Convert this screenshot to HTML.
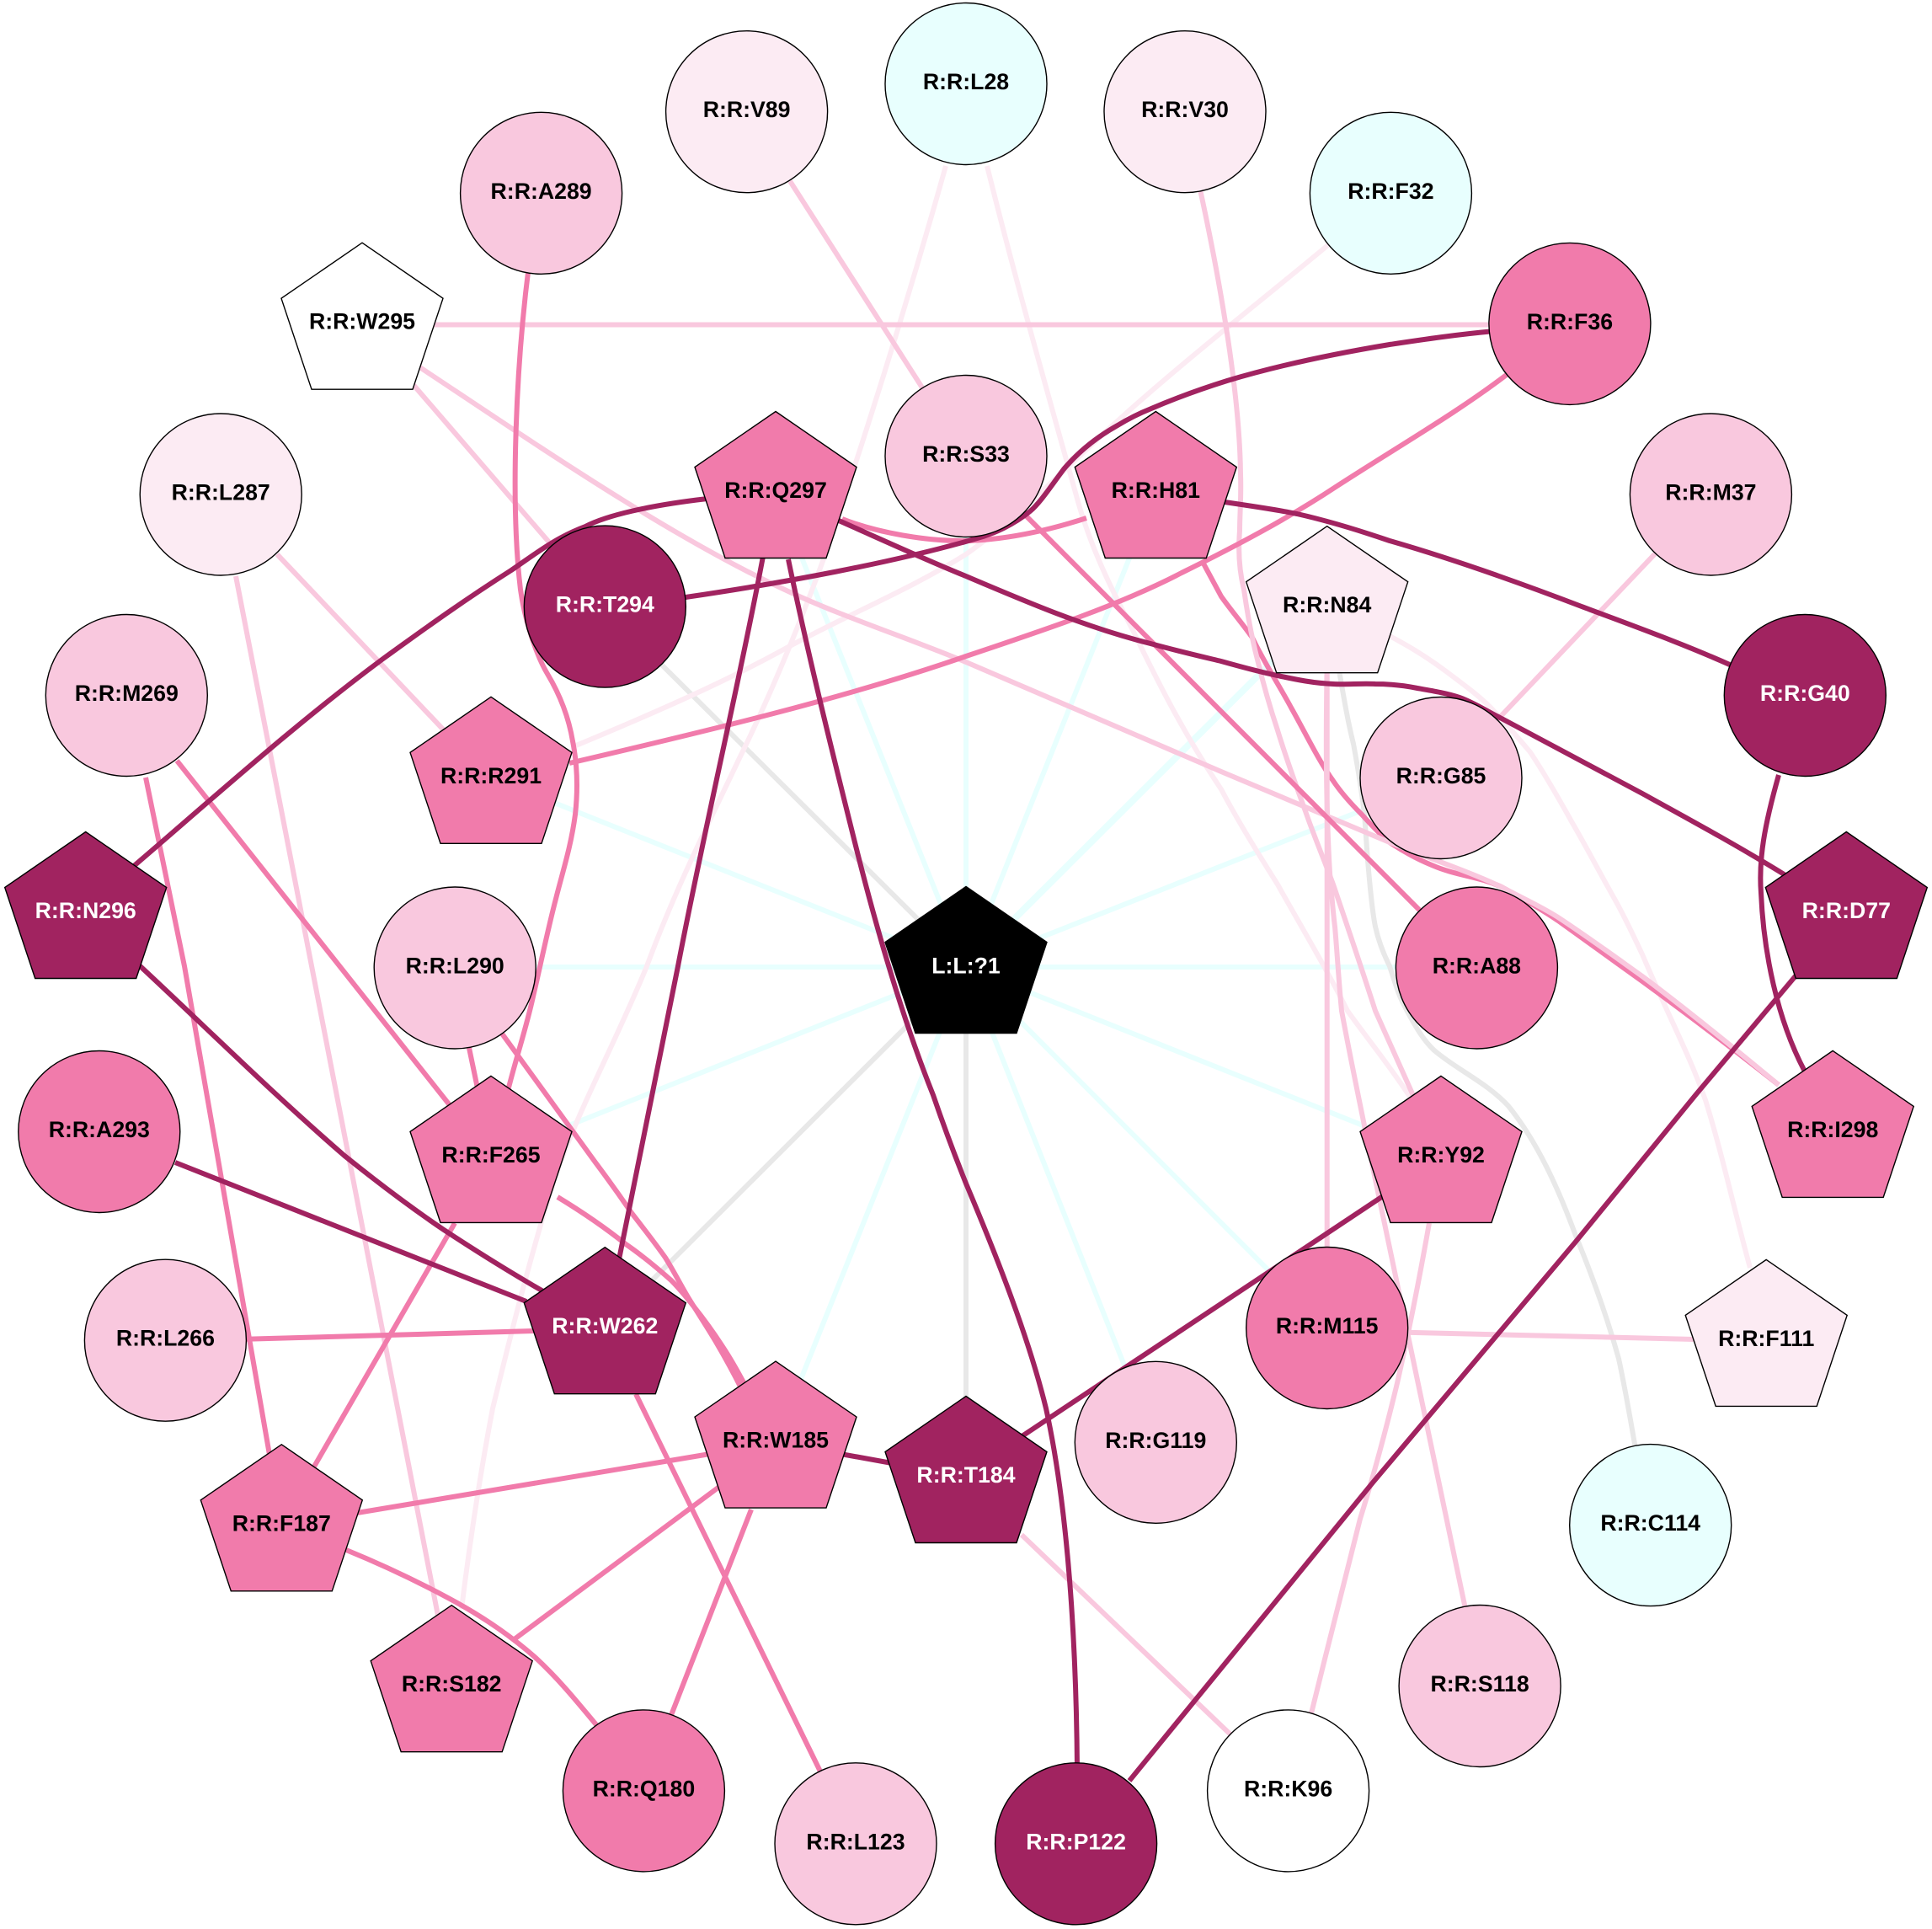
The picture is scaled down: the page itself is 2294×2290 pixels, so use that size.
<!DOCTYPE html>
<html>
<head>
<meta charset="utf-8">
<style>
html,body{margin:0;padding:0;background:#fff}
svg{display:block}
text{font-family:"Liberation Sans",sans-serif;font-weight:bold;font-size:26.7px;text-anchor:middle;fill:#000}
text.w{fill:#fff}
.e{fill:none;stroke-width:6;stroke-linejoin:round;stroke-linecap:butt}
.c{stroke:#e8fffe}.g{stroke:#e8e8e8}.p{stroke:#fcebf3}.l{stroke:#f9c8de}.m{stroke:#f17bab}.d{stroke:#a12360}
circle,polygon{stroke:#000;stroke-width:1.4}
.fd{fill:#a12360}.fm{fill:#f17bab}.fl{fill:#f9c8de}.fp{fill:#fcebf3}.fc{fill:#e8fffe}.fw{fill:#fff}.fk{fill:#000}
</style>
</head>
<body>
<svg width="2294" height="2290" viewBox="0 0 2294 2290" xmlns="http://www.w3.org/2000/svg">
<rect width="2294" height="2290" fill="#fff"/>
<!-- spokes -->
<path class="e c" d="M1147,1148L1147,543"/>
<path class="e c" d="M1147,1148L921,585"/>
<path class="e c" d="M1147,1148L583,923"/>
<path class="e c" d="M1147,1148L540,1148"/>
<path class="e c" d="M1147,1148L583,1373"/>
<path class="e c" d="M1147,1148L921,1712"/>
<path class="e c" d="M1147,1148L1372,1714"/>
<path class="e c" d="M1147,1148L1576,1578"/>
<path class="e c" d="M1147,1148L1711,1373"/>
<path class="e c" d="M1147,1148L1753,1148"/>
<path class="e c" d="M1147,1148L1711,925"/>
<path class="e c" style="stroke-width:8" d="M1147,1148L1576,720"/>
<path class="e c" d="M1147,1148L1372,585"/>
<path class="e g" d="M1147,1148L718,722"/>
<path class="e g" d="M1147,1148L718,1576"/>
<path class="e g" d="M1147,1148L1147,1753"/>
<path class="e g" d="M1589,790 C1595,825 1600,855 1607,883 C1612,910 1617,940 1620,967 C1622,990 1623,1012 1625,1033 C1627,1055 1629,1080 1633,1100 C1637,1118 1643,1133 1650,1147 C1656,1165 1660,1180 1667,1193 C1680,1218 1690,1235 1703,1247 C1730,1270 1765,1285 1791,1313 C1825,1355 1850,1410 1871,1467 C1895,1525 1910,1570 1922,1613 C1930,1650 1935,1680 1942,1720"/>
<!-- pale -->
<path class="e p" d="M684,885 C780,845 860,810 936,768 C1010,728 1080,700 1147,658 C1215,610 1270,550 1330,497 C1410,425 1500,355 1578,290"/>
<path class="e p" d="M1172,197 C1205,330 1245,470 1279,592 C1295,650 1320,700 1344,746 C1375,810 1405,870 1450,937 C1470,975 1495,1015 1517,1050 C1545,1100 1575,1150 1600,1200 C1625,1235 1650,1265 1674,1302"/>
<path class="e p" d="M1123,197 C1080,350 1030,510 980,658 C950,740 915,825 878,900 C840,980 800,1060 768,1147 C730,1240 685,1320 658,1401 C630,1490 605,1590 585,1672 C570,1750 558,1830 548,1910"/>
<path class="e p" d="M1650,755 C1675,768 1697,782 1717,797 C1737,812 1755,825 1770,840 C1787,858 1802,875 1817,893 C1835,920 1852,950 1867,977 C1885,1008 1900,1037 1917,1067 C1930,1090 1940,1112 1950,1133 C1985,1215 2005,1250 2025,1306 C2045,1370 2060,1440 2078,1505"/>
<!-- medium under light -->
<path class="e m" d="M1429,669 C1436,682 1442,693 1450,708 C1462,725 1475,740 1487,757 C1500,785 1518,812 1533,840 C1550,870 1565,902 1583,927 C1593,942 1605,955 1617,967 C1627,978 1640,992 1650,1000 C1665,1010 1683,1020 1700,1027 C1730,1040 1755,1040 1783,1053 C1805,1065 1828,1078 1850,1093 C1885,1118 1915,1140 1950,1165 C2005,1205 2060,1247 2112,1288"/>
<!-- light -->
<path class="e l" d="M938,215 L1100,468"/>
<path class="e l" d="M500,385.5 L1780,385.5"/>
<path class="e l" d="M491,457 L660,653"/>
<path class="e l" d="M497,435 C640,530 800,640 936,702 C1000,732 1080,758 1147,786 L1450,916 L1650,1000 C1700,1020 1745,1035 1783,1053 C1805,1065 1828,1075 1850,1089 C1885,1112 1915,1134 1950,1159 C2005,1200 2060,1245 2112,1288"/>
<path class="e l" d="M329,658 L530,870"/>
<path class="e l" d="M280,684 L520,1918"/>
<path class="e l" d="M1425,225 C1450,340 1472,470 1473,563 C1474,590 1472,610 1472,630 C1470,655 1472,680 1477,700 C1481,728 1486,756 1493,783 C1500,812 1508,840 1517,867 C1527,900 1538,930 1550,963 C1560,992 1572,1020 1583,1050 C1600,1100 1617,1150 1633,1200 L1680,1305"/>
<path class="e l" d="M1575.7,760 L1575.7,1500"/>
<path class="e l" d="M1576,760 C1575,830 1574,900 1576,967 C1577,1000 1578,1025 1580,1050 C1582,1070 1583,1085 1585,1100 C1588,1135 1590,1170 1593,1200 C1605,1265 1618,1325 1630,1386 L1740,1910"/>
<path class="e l" d="M2031,588 L1711,925"/>
<path class="e l" d="M1213,1822 L1462,2060"/>
<path class="e l" d="M1670,1581.7 L2012,1590"/>
<path class="e l" d="M1697,1452 C1685,1520 1672,1585 1659,1642 C1645,1700 1630,1755 1615,1803 C1595,1885 1575,1960 1556,2038"/>
<!-- medium -->
<path class="e m" d="M628,315 C612,440 606,600 618,700 C622,730 635,775 650,800 C665,825 675,850 680,880 C686,910 686,940 683,967 C678,1005 668,1035 660,1067 C650,1105 642,1145 633,1183 C625,1220 613,1255 603,1295"/>
<path class="e m" d="M1000,616 C1040,632 1100,643 1150,642 C1200,640 1250,628 1290,615"/>
<path class="e m" d="M1147,541 L1690,1085"/>
<path class="e m" d="M676,906 C830,870 1000,830 1147,779 C1240,748 1330,718 1403,680 C1470,647 1530,615 1586,578 C1660,530 1730,490 1790,444"/>
<path class="e m" d="M173,923 L219,1147 L320,1727"/>
<path class="e m" d="M210,903 L534,1312"/>
<path class="e m" d="M292,1589.8 L634,1580"/>
<path class="e m" d="M557,1244 L567,1292"/>
<path class="e m" d="M596,1227 L707,1380 C722,1400 737,1421 750,1440 C764,1458 778,1476 790,1493 C800,1509 808,1525 817,1540 C828,1558 840,1576 850,1593 C860,1610 870,1628 880,1648"/>
<path class="e m" d="M662,1421 C690,1438 718,1457 743,1477 C762,1490 780,1505 797,1520 C807,1530 815,1540 823,1550 C835,1565 846,1580 857,1597 C867,1612 875,1626 885,1645"/>
<path class="e m" d="M540,1452 L373,1741"/>
<path class="e m" d="M755,1655 L974,2103"/>
<path class="e m" d="M840,1726.5 L424,1796"/>
<path class="e m" d="M854,1765 L608,1948"/>
<path class="e m" d="M892,1792 L797,2036"/>
<path class="e m" d="M411,1840 C455,1858 495,1877 534,1898 C575,1920 610,1945 636,1968 C665,1995 685,2020 710,2050"/>
<!-- dark -->
<path class="e d" d="M840,592 C770,600 720,612 695,625 C660,638 635,658 607,677 C555,710 510,742 453.5,783 C350,860 250,950 159,1028"/>
<path class="e d" d="M908,650 C880,800 835,990 805,1147 C780,1270 755,1390 735,1495"/>
<path class="e d" d="M936,664 C960,780 990,900 1015,1000 C1040,1100 1072,1210 1108,1300 C1120,1335 1133,1370 1147,1405 C1185,1495 1222,1590 1242,1672 C1268,1790 1278,1950 1279,2100"/>
<path class="e d" d="M996,618 C1050,642 1100,665 1147,684 C1220,715 1290,745 1366,764 C1395,772 1425,779 1450,785 C1475,792 1497,798 1517,802 C1540,807 1560,811 1583,812 C1600,813 1615,811 1633,812 C1650,812 1668,814 1683,817 C1700,820 1718,823 1733,828 C1750,834 1765,844 1783,853 L1950,942 C2010,975 2065,1005 2120,1039"/>
<path class="e d" d="M814,709 C930,692 1060,668 1157,640 C1180,634 1205,622 1223,607 C1235,597 1248,577 1263,557 C1280,537 1300,520 1327,505 C1340,497 1352,491 1367,485 C1395,473 1425,462 1457,452 C1520,433 1590,419 1650,409 C1690,403 1730,397 1775,393"/>
<path class="e d" d="M1454,596 C1480,600 1510,604 1540,610 C1580,619 1615,630 1650,642 C1730,665 1810,694 1878,720 C1940,743 2000,765 2056,790"/>
<path class="e d" d="M2112,920 C2095,980 2088,1020 2091,1060 C2094,1130 2110,1210 2143,1272"/>
<path class="e d" d="M2135,1155 L2014,1299 L1871,1474 L1630,1760 L1341,2114"/>
<path class="e d" d="M160,1141 C240,1215 320,1295 409,1372 C450,1405 490,1435 527,1460 C565,1485 605,1510 645,1533"/>
<path class="e d" d="M208,1380 L625,1545"/>
<path class="e d" d="M921,1712 L1147,1753"/>
<path class="e d" d="M1214,1704.6 L1642,1420"/>

<g transform="translate(0,-1.5)">
<!-- circle nodes -->
<circle class="fl" cx="642.6" cy="230.8" r="96"/><text x="642.6" y="237.3">R:R:A289</text>
<circle class="fp" cx="886.6" cy="134.2" r="96"/><text x="886.6" y="140.7">R:R:V89</text>
<circle class="fc" cx="1147" cy="101" r="96"/><text x="1147" y="107.5">R:R:L28</text>
<circle class="fp" cx="1407" cy="134.2" r="96"/><text x="1407" y="140.7">R:R:V30</text>
<circle class="fc" cx="1651.4" cy="230.8" r="96"/><text x="1651.4" y="237.3">R:R:F32</text>
<circle class="fm" cx="1863.9" cy="385.9" r="96"/><text x="1863.9" y="392.4">R:R:F36</text>
<circle class="fl" cx="2031.4" cy="588.5" r="96"/><text x="2031.4" y="595">R:R:M37</text>
<circle class="fd" cx="2143.3" cy="827" r="96"/><text class="w" x="2143.3" y="833.5">R:R:G40</text>
<circle class="fp" cx="262.2" cy="588.5" r="96"/><text x="262.2" y="595">R:R:L287</text>
<circle class="fl" cx="150.3" cy="827" r="96"/><text x="150.3" y="833.5">R:R:M269</text>
<circle class="fl" cx="1147" cy="543" r="96"/><text x="1147" y="549.5">R:R:S33</text>
<circle class="fd" cx="718.3" cy="721.6" r="96"/><text class="w" x="718.3" y="728.1">R:R:T294</text>
<circle class="fl" cx="1711" cy="925" r="96"/><text x="1711" y="931.5">R:R:G85</text>
<circle class="fl" cx="540.2" cy="1150.5" r="96"/><text x="540.2" y="1157">R:R:L290</text>
<circle class="fm" cx="1753.4" cy="1150.5" r="96"/><text x="1753.4" y="1157">R:R:A88</text>
<circle class="fm" cx="117.8" cy="1345" r="96"/><text x="117.8" y="1351.5">R:R:A293</text>
<circle class="fl" cx="196.4" cy="1592.7" r="96"/><text x="196.4" y="1599.2">R:R:L266</text>
<circle class="fm" cx="1575.7" cy="1578" r="96"/><text x="1575.7" y="1584.5">R:R:M115</text>
<circle class="fl" cx="1372.3" cy="1713.8" r="96"/><text x="1372.3" y="1720.3">R:R:G119</text>
<circle class="fc" cx="1959.7" cy="1812.1" r="96"/><text x="1959.7" y="1818.6">R:R:C114</text>
<circle class="fl" cx="1757.1" cy="2003" r="96"/><text x="1757.1" y="2009.5">R:R:S118</text>
<circle class="fw" cx="1529.6" cy="2127.4" r="96"/><text x="1529.6" y="2133.9">R:R:K96</text>
<circle class="fm" cx="764.4" cy="2127.4" r="96"/><text x="764.4" y="2133.9">R:R:Q180</text>
<circle class="fl" cx="1016" cy="2190.3" r="96"/><text x="1016" y="2196.8">R:R:L123</text>
<circle class="fd" cx="1277.6" cy="2190.3" r="96"/><text class="w" x="1277.6" y="2196.8">R:R:P122</text>

<!-- pentagon nodes -->
<g transform="translate(430,289.7)"><polygon class="fw" points="0,0 96,66 60,174 -60,174 -96,66"/><text y="102.5">R:R:W295</text></g>
<g transform="translate(921,490)"><polygon class="fm" points="0,0 96,66 60,174 -60,174 -96,66"/><text y="102.5">R:R:Q297</text></g>
<g transform="translate(1372.3,490)"><polygon class="fm" points="0,0 96,66 60,174 -60,174 -96,66"/><text y="102.5">R:R:H81</text></g>
<g transform="translate(1575.7,626.2)"><polygon class="fp" points="0,0 96,66 60,174 -60,174 -96,66"/><text y="102.5">R:R:N84</text></g>
<g transform="translate(583,828.8)"><polygon class="fm" points="0,0 96,66 60,174 -60,174 -96,66"/><text y="102.5">R:R:R291</text></g>
<g transform="translate(101.7,989)"><polygon class="fd" points="0,0 96,66 60,174 -60,174 -96,66"/><text class="w" y="102.5">R:R:N296</text></g>
<g transform="translate(2192.3,989)"><polygon class="fd" points="0,0 96,66 60,174 -60,174 -96,66"/><text class="w" y="102.5">R:R:D77</text></g>
<g transform="translate(1147,1054)"><polygon class="fk" points="0,0 96,66 60,174 -60,174 -96,66"/><text class="w" y="103">L:L:?1</text></g>
<g transform="translate(583,1278.9)"><polygon class="fm" points="0,0 96,66 60,174 -60,174 -96,66"/><text y="102.5">R:R:F265</text></g>
<g transform="translate(1711,1278.9)"><polygon class="fm" points="0,0 96,66 60,174 -60,174 -96,66"/><text y="102.5">R:R:Y92</text></g>
<g transform="translate(2176.2,1248.9)"><polygon class="fm" points="0,0 96,66 60,174 -60,174 -96,66"/><text y="102.5">R:R:I298</text></g>
<g transform="translate(718.3,1482.2)"><polygon class="fd" points="0,0 96,66 60,174 -60,174 -96,66"/><text class="w" y="102.5">R:R:W262</text></g>
<g transform="translate(2097.2,1496.9)"><polygon class="fp" points="0,0 96,66 60,174 -60,174 -96,66"/><text y="102.5">R:R:F111</text></g>
<g transform="translate(921,1617.6)"><polygon class="fm" points="0,0 96,66 60,174 -60,174 -96,66"/><text y="102.5">R:R:W185</text></g>
<g transform="translate(1147,1659)"><polygon class="fd" points="0,0 96,66 60,174 -60,174 -96,66"/><text class="w" y="102.5">R:R:T184</text></g>
<g transform="translate(334.3,1716.3)"><polygon class="fm" points="0,0 96,66 60,174 -60,174 -96,66"/><text y="102.5">R:R:F187</text></g>
<g transform="translate(536.2,1907.2)"><polygon class="fm" points="0,0 96,66 60,174 -60,174 -96,66"/><text y="102.5">R:R:S182</text></g>
</g>
</svg>
</body>
</html>
